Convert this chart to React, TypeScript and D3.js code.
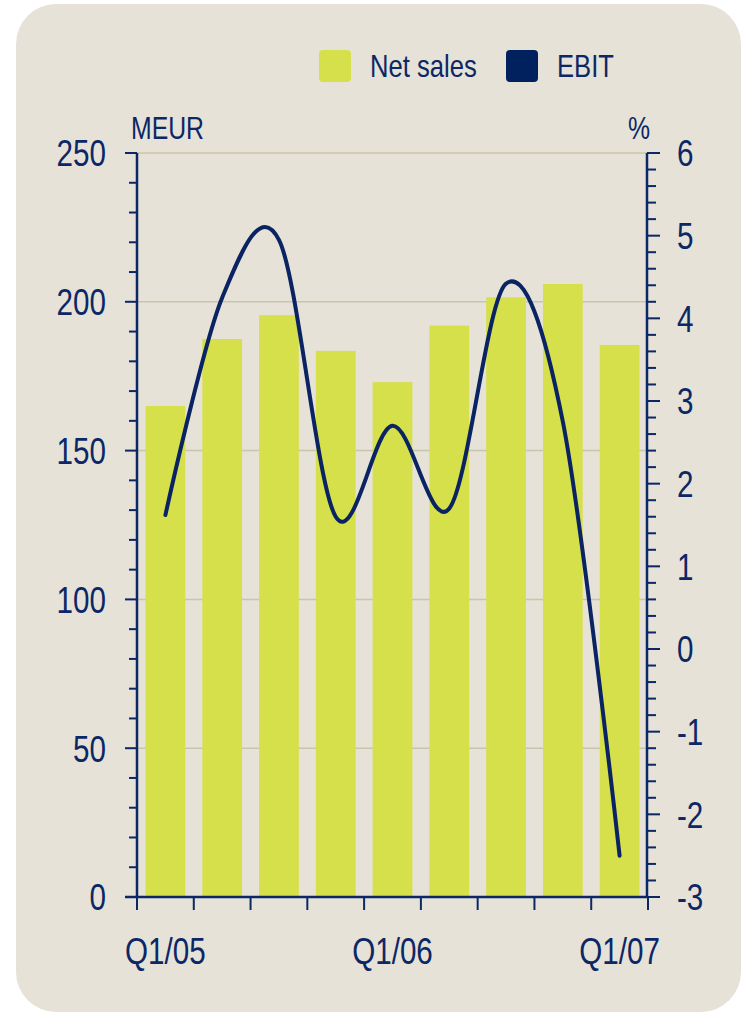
import * as d3 from 'd3';
import { useMemo } from 'react';

// quarters on the x axis
const quarters = [
  'Q1/05', 'Q2/05', 'Q3/05', 'Q4/05',
  'Q1/06', 'Q2/06', 'Q3/06', 'Q4/06',
  'Q1/07',
];
// net sales, MEUR (left axis)
const netSales = [165, 187.5, 195.5, 183.5, 173, 192, 201.5, 206, 185.5];
// EBIT margin, % (right axis)
const ebit = [1.62, 4.25, 4.95, 1.6, 2.7, 1.7, 4.42, 2.75, -2.5];

const leftTicks = [0, 50, 100, 150, 200, 250];
const rightTicks = [-3, -2, -1, 0, 1, 2, 3, 4, 5, 6];
const shownLabels = ['Q1/05', 'Q1/06', 'Q1/07'];

const NAVY = '#0b2766';
const BAR = '#d6e04b';
const BG = '#e6e2d8';
const GRID = '#c8c5ad';
const FONT = "'Liberation Sans', Arial, sans-serif";

// no narrow font installed, so squeeze the regular one
type CTextProps = {
  x: number;
  y: number;
  size: number;
  anchor?: 'start' | 'middle' | 'end';
  dy?: string;
  children: React.ReactNode;
};

function CText({ x, y, size, anchor = 'start', dy, children }: CTextProps) {
  return (
    <text
      transform={`translate(${x},${y}) scale(0.8,1)`}
      dy={dy}
      textAnchor={anchor}
      fontFamily={FONT}
      fontSize={size}
      fill={NAVY}
    >
      {children}
    </text>
  );
}

export default function App() {
  const width = 744;
  const height = 1014;
  const left = 137;
  const right = 648;
  const top = 153;
  const bottom = 897;

  const x = useMemo(
    () =>
      d3
        .scaleBand<string>()
        .domain(quarters)
        .range([left, right])
        .paddingInner(0.3)
        .paddingOuter(0.15),
    []
  );
  const yL = useMemo(() => d3.scaleLinear().domain([0, 250]).range([bottom, top]), []);
  const yR = useMemo(() => d3.scaleLinear().domain([-3, 6]).range([bottom, top]), []);

  const linePath = useMemo(() => {
    const gen = d3
      .line<number>()
      .x((_, i) => (x(quarters[i]) ?? 0) + x.bandwidth() / 2)
      .y((d) => yR(d))
      .curve(d3.curveCardinal.tension(0));
    return gen(ebit);
  }, []);

  const leftMinor = d3.range(0, 251, 10);
  const rightMinor = d3.range(-30, 61, 2).map((d) => d / 10);
  const halfGap = (x.step() * x.paddingInner()) / 2;
  const xTicks = [...quarters.map((q) => (x(q) ?? 0) - halfGap), right];

  return (
    <svg width={width} height={height} style={{ position: 'absolute', left: 0, top: 0 }}>
      <rect x={16} y={4} width={725} height={1008} rx={40} fill={BG} />

      {/* legend */}
      <rect x={319} y={50} width={32} height={32} rx={4} fill={BAR} />
      <CText x={370} y={77} size={32}>
        Net sales
      </CText>
      <rect x={506} y={50} width={32} height={32} rx={4} fill='#00215e' />
      <CText x={557} y={77} size={32}>
        EBIT
      </CText>

      {/* unit labels */}
      <CText x={131} y={139} size={31}>
        MEUR
      </CText>
      <CText x={650} y={139} size={31} anchor='end'>
        %
      </CText>

      {/* gridlines */}
      {leftTicks
        .filter((t) => t > 0)
        .map((t) => (
          <line key={t} x1={left} x2={right} y1={yL(t)} y2={yL(t)} stroke={GRID} strokeWidth={1.5} />
        ))}

      {/* bars */}
      {netSales.map((v, i) => (
        <rect
          key={quarters[i]}
          x={x(quarters[i])}
          y={yL(v)}
          width={x.bandwidth()}
          height={yL(0) - yL(v)}
          fill={BAR}
        />
      ))}

      {/* EBIT line */}
      <path
        d={linePath ? linePath : 'M0 0'}
        fill='none'
        stroke='#0a2362'
        strokeWidth={4}
        strokeLinejoin='round'
        strokeLinecap='round'
      />

      {/* left axis */}
      <line x1={left} x2={left} y1={top} y2={bottom} stroke={NAVY} strokeWidth={2.5} />
      {leftMinor.map((t) => (
        <line
          key={t}
          x1={left}
          x2={left - (t % 50 === 0 ? 12 : 8)}
          y1={yL(t)}
          y2={yL(t)}
          stroke={NAVY}
          strokeWidth={2}
        />
      ))}
      {leftTicks.map((t) => (
        <CText key={t} x={106} y={yL(t)} dy='0.36em' size={37} anchor='end'>
          {t}
        </CText>
      ))}

      {/* right axis */}
      <line x1={right - 1} x2={right - 1} y1={top} y2={bottom} stroke={NAVY} strokeWidth={2.5} />
      {rightMinor.map((t) => (
        <line
          key={t}
          x1={right - 1}
          x2={right - 1 + (Math.abs(t % 1) < 1e-6 ? 13 : 9)}
          y1={yR(t)}
          y2={yR(t)}
          stroke={NAVY}
          strokeWidth={2}
        />
      ))}
      {rightTicks.map((t) => (
        <CText key={t} x={677} y={yR(t)} dy='0.36em' size={37}>
          {t}
        </CText>
      ))}

      {/* x axis */}
      <line x1={left - 12} x2={right} y1={bottom} y2={bottom} stroke={NAVY} strokeWidth={2.5} />
      {xTicks.map((t, i) => (
        <line key={i} x1={t} x2={t} y1={bottom} y2={bottom + 13} stroke={NAVY} strokeWidth={2} />
      ))}
      {shownLabels.map((q) => (
        <CText key={q} x={(x(q) ?? 0) + x.bandwidth() / 2} y={964} size={37} anchor='middle'>
          {q}
        </CText>
      ))}
    </svg>
  );
}
